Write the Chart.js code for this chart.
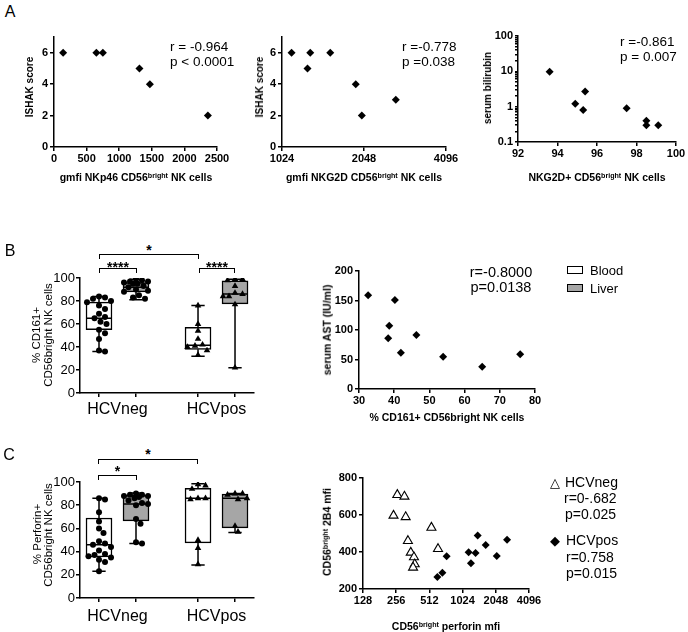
<!DOCTYPE html>
<html><head><meta charset="utf-8">
<script src="https://cdn.jsdelivr.net/npm/chart.js@4.4.1/dist/chart.umd.min.js"></script>
<style>
html,body{margin:0;padding:0;background:#fff}
body{position:relative;width:688px;height:632px;overflow:hidden;font-family:'Liberation Sans',Arial,Helvetica,sans-serif;color:#000}
canvas{position:absolute}
.t{position:absolute;white-space:nowrap;line-height:1;color:#000}
.t sup{font-size:0.68em;line-height:0;vertical-align:0.45em}
.br{position:absolute;box-sizing:border-box;border:1.8px solid #000;border-bottom:none}
.lg{position:absolute;box-sizing:border-box;border:1.8px solid #000}
</style></head><body>
<script>
// ================= DATA =================
// ---- Panel A ----
const a1NKp46Gmfi = [140, 650, 750, 1310, 1470, 2360];
const a1IshakScore = [6, 6, 6, 5, 4, 2];
const a2NKG2DGmfi = [1110, 1270, 1300, 1540, 1910, 2010, 2680];
const a2IshakScore = [6, 5, 6, 6, 4, 2, 3];
const a3NKG2DPct = [93.6, 94.9, 95.3, 95.4, 97.5, 98.5, 98.5, 99.1];
const a3Bilirubin = [9.7, 1.2, 0.8, 2.7, 0.9, 0.4, 0.3, 0.3];
const a1XTicks = [0, 500, 1000, 1500, 2000, 2500];
const aIshakTicks = [0, 2, 4, 6];
const a2XTicks = [1024, 2048, 4096];
const a3XTicks = [92, 94, 96, 98, 100];
const a3YMajor = [0.1, 1, 10, 100];

// ---- Panel B ----
const groupLabels = ['HCVneg', 'HCVpos'];
const bCD161NegBlood = [84, 83, 82, 80, 79, 76, 73, 69, 66, 65, 62, 60, 55, 52, 47, 37, 36];
const bCD161NegLiver = [99, 98, 97, 97, 96, 95, 95, 93, 92, 90, 89, 88, 85, 83, 82];
const bCD161PosBlood = [76, 60, 54, 47, 42, 41, 40, 37, 33];
const bCD161PosLiver = [99, 99, 98, 93, 87, 86, 84, 84, 77, 22];
// [min, q1, median, q3, max]
const bBoxStats = [[36, 55, 65, 79, 84], [81, 88, 92, 96, 99], [32, 38, 41.5, 57, 76], [22, 77.5, 86, 97.5, 99]];
const bCD161Pct = [32.6, 40.2, 38.6, 38.3, 41.9, 46.3, 53.9, 65, 75.8];
const bSerumAST = [159, 151, 107, 86, 61.5, 91.5, 54.7, 37.8, 58.8];
const pctTicks = [0, 20, 40, 60, 80, 100];
const bSxTicks = [30, 40, 50, 60, 70, 80];
const bSyTicks = [0, 50, 100, 150, 200];

// ---- Panel C ----
const cPerfNegBlood = [86, 85, 74, 66, 60, 56, 49, 47, 46, 44, 41, 38, 37, 36, 35, 33, 31, 23];
const cPerfNegLiver = [90, 89, 89, 88, 88, 87, 86, 84, 82, 81, 80, 68, 64, 48, 47];
const cPerfPosBlood = [98, 97, 94, 86, 86, 85, 50, 43, 29];
const cPerfPosLiver = [90, 90, 89, 86, 85, 62, 57];
const cBoxStats = [[23, 35.5, 46, 69, 86], [47, 66.5, 81, 88.5, 90.5], [28.5, 47.5, 86, 94.5, 98.5], [56.5, 60.5, 86, 89.5, 90]];
const cNegPerforin = [262, 304, 242, 312, 534, 327, 613, 347, 371, 377, 364];
const cNeg2B4 = [709, 700, 597, 589, 532, 460, 417, 397, 372, 334, 316];
const cPosPerforin = [605, 671, 734, 1162, 1218, 1342, 1404, 1659, 2090, 2590];
const cPos2B4 = [265, 288, 377, 399, 339, 395, 489, 438, 379, 466];
const cSxTicks = [128, 256, 512, 1024, 2048, 4096];
const cSyTicks = [200, 400, 600, 800];

// ================= HELPERS =================
const F = "'Liberation Sans', Arial, Helvetica, sans-serif";
const GRAY = '#a6a6a6';
Chart.defaults.font.family = F;

function place(html, x, y, o = {}) {
  const d = document.createElement('div');
  d.className = 't';
  d.innerHTML = html;
  d.style.left = x + 'px'; d.style.top = y + 'px';
  d.style.fontSize = (o.size || 12) + 'px';
  if (o.bold) d.style.fontWeight = 'bold';
  if (o.font) d.style.fontFamily = o.font;
  let tr = o.anchor === 'l' ? 'translate(0,-50%)' : 'translate(-50%,-50%)';
  if (o.rot) tr += ' rotate(-90deg)';
  d.style.transform = tr;
  document.body.appendChild(d);
}
function bracket(x1, x2, y, drop, star, sy) {
  const d = document.createElement('div');
  d.className = 'br';
  d.style.left = x1 + 'px'; d.style.top = y + 'px';
  d.style.width = (x2 - x1) + 'px'; d.style.height = drop + 'px';
  document.body.appendChild(d);
  place(star, (x1 + x2) / 2, sy, {size: 14, bold: true});
}
function legendBox(x, y, fill) {
  const d = document.createElement('div');
  d.className = 'lg';
  d.style.left = x + 'px'; d.style.top = y + 'px';
  d.style.width = '16px'; d.style.height = '8px'; d.style.background = fill;
  document.body.appendChild(d);
}

function ax(type, min, max, ticks, o = {}) {
  return {
    type, min, max, offset: false,
    border: {display: true, color: '#000', width: 1.5},
    grid: {display: true, offset: false, drawOnChartArea: false, drawTicks: true, tickLength: o.tl || 4,
           color: '#000', lineWidth: 1.5, tickColor: o.tickColor || '#000'},
    ticks: {color: '#000', autoSkip: false, maxRotation: 0, minRotation: 0, padding: o.pad ?? 2,
            font: {family: F, size: o.size || 11, weight: o.weight || 'bold'},
            callback: o.cb || (v => String(v))},
    afterBuildTicks: s => { s.ticks = ticks.map(v => ({value: v})); },
    afterFit: o.fit
  };
}

function mk(area, datasets, xOpt, yOpt) {
  const LW = 50, PT = 12, PR = 34, XH = 34;
  const c = document.createElement('canvas');
  const w = area.r - area.l + LW + PR, h = area.b - area.t + PT + XH;
  c.width = w; c.height = h;
  c.style.width = w + 'px'; c.style.height = h + 'px';
  c.style.left = (area.l - LW) + 'px'; c.style.top = (area.t - PT) + 'px';
  document.body.appendChild(c);
  xOpt.afterFit = s => { s.height = XH; };
  yOpt.afterFit = s => { s.width = LW; };
  return new Chart(c, {
    type: 'scatter',
    data: {datasets},
    options: {
      responsive: false, animation: false, devicePixelRatio: 1, events: [],
      layout: {padding: {left: 0, top: PT, right: PR, bottom: 0}},
      plugins: {legend: {display: false}, tooltip: {enabled: false}},
      scales: {x: xOpt, y: yOpt}
    }
  });
}

const pts = (xs, ys) => xs.map((x, i) => ({x, y: ys[i]}));
const diamond = (data, r = 4) => ({data, pointStyle: 'rectRot', pointRadius: r, backgroundColor: '#000', borderColor: '#000', borderWidth: 0});

function swarm(vals, cx, kx, ky, d, maxOff) {
  const placed = [], out = [];
  [...vals].sort((a, b) => b - a).forEach(v => {
    const py = v * ky;
    let best = 0, bestScore = -1;
    for (let k = 0; k < 40; k++) {
      const cand = k === 0 ? 0 : (k % 2 ? 1 : -1) * Math.ceil(k / 2) * 1.5;
      if (Math.abs(cand) > maxOff) continue;
      const md = placed.length ? Math.min(...placed.map(p => Math.hypot(p.x - cand, p.y - py))) : 1e9;
      if (md >= d) { best = cand; bestScore = md; break; }
      if (md > bestScore) { bestScore = md; best = cand; }
    }
    placed.push({x: best, y: py});
    out.push({x: cx + best / kx, y: v});
  });
  return out;
}

const boxPos = [1, 2, 3.676, 4.676];
const boxFills = ['#fff', GRAY, '#fff', GRAY];
const boxShapes = ['circle', 'circle', 'triangle', 'triangle'];
function boxDatasets(stats, groups, ky) {
  const ds = [];
  ds.push({type: 'bar', data: stats.map((s, i) => ({x: boxPos[i], y: [s[1], s[3]]})),
           backgroundColor: boxFills, borderColor: '#000', borderWidth: 1.5, borderSkipped: false,
           barThickness: 26, grouped: false, order: 2});
  const seg = []; const CAP = 0.18, HALF = 0.35;
  stats.forEach((s, i) => {
    const x = boxPos[i];
    seg.push({x, y: s[4]}, {x, y: s[3]}, {x, y: null},
             {x, y: s[1]}, {x, y: s[0]}, {x, y: null},
             {x: x - CAP, y: s[4]}, {x: x + CAP, y: s[4]}, {x, y: null},
             {x: x - CAP, y: s[0]}, {x: x + CAP, y: s[0]}, {x, y: null},
             {x: x - HALF, y: s[2]}, {x: x + HALF, y: s[2]}, {x, y: null});
  });
  ds.push({type: 'scatter', data: seg, showLine: true, spanGaps: false, borderColor: '#000',
           borderWidth: 1.5, pointRadius: 0, order: 1});
  groups.forEach((vals, i) => {
    const tri = boxShapes[i] === 'triangle';
    ds.push({type: 'scatter', data: swarm(vals, boxPos[i], 37, ky, tri ? 6.5 : 6, 12),
             pointStyle: boxShapes[i], pointRadius: tri ? 3.8 : 3, backgroundColor: '#000',
             borderColor: '#000', borderWidth: 0, order: 0});
  });
  return ds;
}
function boxX(pad) {
  const t = [1, 1.5, 2, 3.676, 4.176, 4.676];
  return ax('linear', 0.4865, 5.189, t, {
    size: 16, weight: 'normal', pad,
    tickColor: ctx => (ctx.tick && (ctx.tick.value === 1.5 || ctx.tick.value === 4.176)) ? 'rgba(0,0,0,0)' : '#000',
    cb: v => v === 1.5 ? groupLabels[0] : (v === 4.176 ? groupLabels[1] : '')
  });
}

// ================= PANEL A =================
place('A', 10, 12, {size: 16});
mk({l: 54, t: 37, r: 217, b: 147}, [diamond(pts(a1NKp46Gmfi, a1IshakScore))],
   ax('linear', 0, 2500, a1XTicks, {pad: 1}), ax('linear', 0, 7, aIshakTicks, {pad: 2}));
place('r = -0.964', 170, 47, {size: 13.5, anchor: 'l'});
place('p &lt; 0.0001', 170, 62, {size: 13.5, anchor: 'l'});
place('ISHAK score', 30, 87, {size: 10, bold: true, rot: true});
place('gmfi NKp46 CD56<sup>bright</sup> NK cells', 136, 177, {size: 10.5, bold: true});

mk({l: 282, t: 37, r: 446, b: 147}, [diamond(pts(a2NKG2DGmfi, a2IshakScore))],
   ax('logarithmic', 1024, 4096, a2XTicks, {pad: 1}), ax('linear', 0, 7, aIshakTicks, {pad: 2}));
place('r =-0.778', 402, 47, {size: 13.5, anchor: 'l'});
place('p =0.038', 402, 62, {size: 13.5, anchor: 'l'});
place('ISHAK score', 260, 87, {size: 10, bold: true, rot: true});
place('gmfi NKG2D CD56<sup>bright</sup> NK cells', 364, 177, {size: 10.5, bold: true});

const a3YTicks = [];
[-1, 0, 1].forEach(e => { for (let k = 1; k <= 9; k++) a3YTicks.push(Number((k * Math.pow(10, e)).toPrecision(2))); });
a3YTicks.push(100);
mk({l: 518, t: 36, r: 676, b: 142}, [diamond(pts(a3NKG2DPct, a3Bilirubin))],
   ax('linear', 92, 100, a3XTicks, {pad: 1}),
   ax('logarithmic', 0.1, 100, a3YTicks, {pad: 2, tl: 3, cb: v => a3YMajor.includes(v) ? String(v) : ''}));
place('r =-0.861', 620, 42, {size: 13.5, anchor: 'l'});
place('p = 0.007', 620, 57, {size: 13.5, anchor: 'l'});
place('serum bilirubin', 488, 88, {size: 10, bold: true, rot: true});
place('NKG2D+ CD56<sup>bright</sup> NK cells', 597, 177, {size: 10.5, bold: true});

// ================= PANEL B =================
place('B', 10, 251, {size: 16});
mk({l: 80, t: 278, r: 254, b: 393},
   boxDatasets(bBoxStats, [bCD161NegBlood, bCD161NegLiver, bCD161PosBlood, bCD161PosLiver], 1.153),
   boxX(3), ax('linear', 0, 100, pctTicks, {size: 13, weight: 'normal', pad: 1}));
bracket(99, 199, 254, 5, '*', 250);
bracket(99, 137, 268, 5, '****', 266.5);
bracket(199, 235, 268, 5, '****', 266.5);
place('% CD161+', 37, 335, {size: 11.5, rot: true});
place('CD56bright NK cells', 49, 335, {size: 11.5, rot: true});

mk({l: 359, t: 271, r: 535, b: 389}, [diamond(pts(bCD161Pct, bSerumAST))],
   ax('linear', 30, 80, bSxTicks, {pad: 1}), ax('linear', 0, 200, bSyTicks, {pad: 2}));
place('r=-0.8000', 501, 272, {size: 14.5});
place('p=0.0138', 501, 287, {size: 14.5});
place('serum AST (IU/ml)', 327, 330, {size: 10.5, bold: true, rot: true});
place('% CD161+ CD56bright NK cells', 447, 417, {size: 10.5, bold: true});
legendBox(567, 266, '#fff');
legendBox(567, 284, GRAY);
place('Blood', 590, 270, {size: 13, anchor: 'l'});
place('Liver', 590, 288, {size: 13, anchor: 'l'});

// ================= PANEL C =================
place('C', 9, 455, {size: 16});
mk({l: 80, t: 482, r: 254, b: 598},
   boxDatasets(cBoxStats, [cPerfNegBlood, cPerfNegLiver, cPerfPosBlood, cPerfPosLiver], 1.16),
   boxX(5), ax('linear', 0, 100, pctTicks, {size: 13, weight: 'normal', pad: 1}));
bracket(98, 198, 459, 5, '*', 454);
bracket(98, 137, 475, 5, '*', 471);
place('% Perforin+', 37.5, 534, {size: 11.5, rot: true});
place('CD56bright NK cells', 49, 535, {size: 11.5, rot: true});

mk({l: 363, t: 478, r: 529, b: 589},
   [{data: pts(cNegPerforin, cNeg2B4), pointStyle: 'triangle', pointRadius: 5.2, backgroundColor: '#fff', borderColor: '#000', borderWidth: 1.1},
    diamond(pts(cPosPerforin, cPos2B4), 4)],
   ax('logarithmic', 128, 4096, cSxTicks, {pad: 1}), ax('linear', 200, 800, cSyTicks, {pad: 2}));
place('CD56<sup>bright</sup> 2B4 mfi', 327, 532, {size: 10.5, bold: true, rot: true});
place('CD56<sup>bright</sup> perforin mfi', 446, 626, {size: 10.5, bold: true});
place('△', 555, 482, {size: 13, font: "'DejaVu Sans'"});
place('HCVneg', 565, 482, {size: 14, anchor: 'l'});
place('r=0-.682', 564, 498, {size: 14, anchor: 'l'});
place('p=0.025', 565, 514, {size: 14, anchor: 'l'});
place('◆', 555, 540, {size: 13, font: "'DejaVu Sans'"});
place('HCVpos', 566, 540, {size: 14, anchor: 'l'});
place('r=0.758', 566, 557, {size: 14, anchor: 'l'});
place('p=0.015', 566, 573, {size: 14, anchor: 'l'});
</script>
</body></html>
